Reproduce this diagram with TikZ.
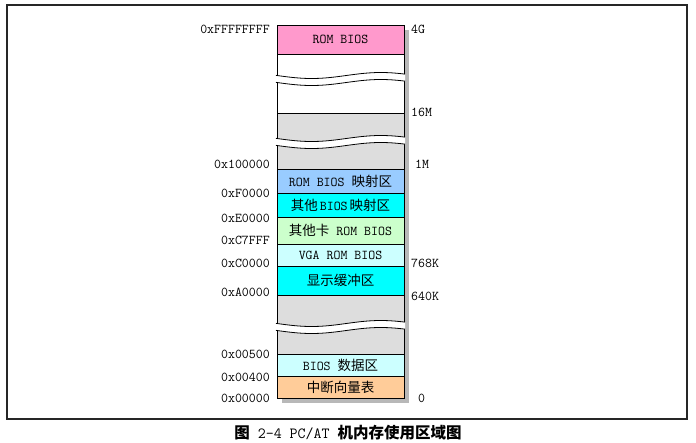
\documentclass[tikz,border=0pt]{standalone}
\usepackage{fontspec}
\newfontfamily\cjk{Noto Sans CJK SC}[Scale=1.0]
\definecolor{pinkc}{HTML}{FF99CC}
\definecolor{grayc}{HTML}{DDDDDD}
\definecolor{lblue}{HTML}{99CCFF}
\definecolor{cyanc}{HTML}{00FFFF}
\definecolor{lgreen}{HTML}{CCFFCC}
\definecolor{lcyan}{HTML}{CCFFFF}
\definecolor{orangec}{HTML}{FFCC99}
\definecolor{shadowc}{HTML}{B8B8B8}
\begin{document}
\begin{tikzpicture}[x=1pt,y=-1pt,
  region/.style={draw=black, line width=0.8pt, minimum width=127pt, inner sep=0pt, outer sep=0pt, font=\ttfamily\fontsize{13.5}{15}\selectfont},
  addrL/.style={anchor=east, inner sep=0pt, font=\ttfamily\fontsize{13.5}{15}\selectfont},
  addrR/.style={anchor=west, inner sep=0pt, font=\ttfamily\fontsize{13.5}{15}\selectfont}]
\useasboundingbox (0,0) rectangle (696,442);
\draw[line width=1.4pt, draw=black!85] (7,5) rectangle (687,419);
% shadow
\fill[shadowc] (404,30) rectangle (409,403);
\fill[shadowc] (282,398) rectangle (409,403);
% regions
\node[region, fill=pinkc, minimum height=29pt] (rom) at (340.5,39.5) {ROM BIOS};
\node[region, fill=white, minimum height=59pt] (hi) at (340.5,83.5) {};
\node[region, fill=grayc, minimum height=56pt] (ext) at (340.5,141) {};
\node[region, fill=lblue, minimum height=24pt] (rbm) at (340.5,181) {ROM BIOS {\cjk 映射区}};
\node[region, fill=cyanc, minimum height=24pt] (obm) at (340.5,205) {{\cjk 其他}\kern2pt BIOS\kern2pt{\cjk 映射区}};
\node[region, fill=lgreen, minimum height=27pt] (ocr) at (340.5,230.5) {{\cjk 其他卡} ROM BIOS};
\node[region, fill=lcyan, minimum height=22pt] (vga) at (340.5,255) {VGA ROM BIOS};
\node[region, fill=cyanc, minimum height=29pt] (disp) at (340.5,280.5) {\cjk 显示缓冲区};
\node[region, fill=grayc, minimum height=59pt] (low) at (340.5,324.5) {};
\node[region, fill=lcyan, minimum height=22pt] (bda) at (340.5,365) {BIOS {\cjk 数据区}};
\node[region, fill=orangec, minimum height=22pt] (ivt) at (340.5,387) {\cjk 中断向量表};
% wave breaks
\foreach \c in {79,142,327}{
  \fill[white] plot[domain=276:405,samples=40] (\x,{\c-3.5+3*sin(2.6*(\x-277))})
     -- plot[domain=405:276,samples=40] (\x,{\c+3.5+3*sin(2.6*(\x-277))}) -- cycle;
  \draw[line width=0.8pt] plot[domain=276:405,samples=40] (\x,{\c-3.5+3*sin(2.6*(\x-277))});
  \draw[line width=0.8pt] plot[domain=276:405,samples=40] (\x,{\c+3.5+3*sin(2.6*(\x-277))});
}
% left addresses
\node[addrL] (a1) at (270,29) {0xFFFFFFFF};
\node[addrL] (a2) at (270,164) {0x100000};
\node[addrL] (a3) at (270,193) {0xF0000};
\node[addrL] (a4) at (270,218) {0xE0000};
\node[addrL] (a5) at (270,240) {0xC7FFF};
\node[addrL] (a6) at (270,263) {0xC0000};
\node[addrL] (a7) at (270,292) {0xA0000};
\node[addrL] (a8) at (270,354) {0x00500};
\node[addrL] (a9) at (270,377) {0x00400};
\node[addrL] (a10) at (270,398) {0x00000};
% right sizes
\node[addrR] (s1) at (411,29) {4G};
\node[addrR] (s2) at (411,112) {16M};
\node[addrR] (s3) at (415,164) {1M};
\node[addrR] (s4) at (411,263) {768K};
\node[addrR] (s5) at (411,296) {640K};
\node[addrR] (s6) at (418,398) {0};
% caption
\node[inner sep=0pt, font=\ttfamily\fontsize{15.5}{17}\selectfont] (cap) at (348,433) {{\cjk\bfseries 图} 2-4 PC/AT {\cjk\bfseries 机内存使用区域图}};
\end{tikzpicture}
\end{document}
